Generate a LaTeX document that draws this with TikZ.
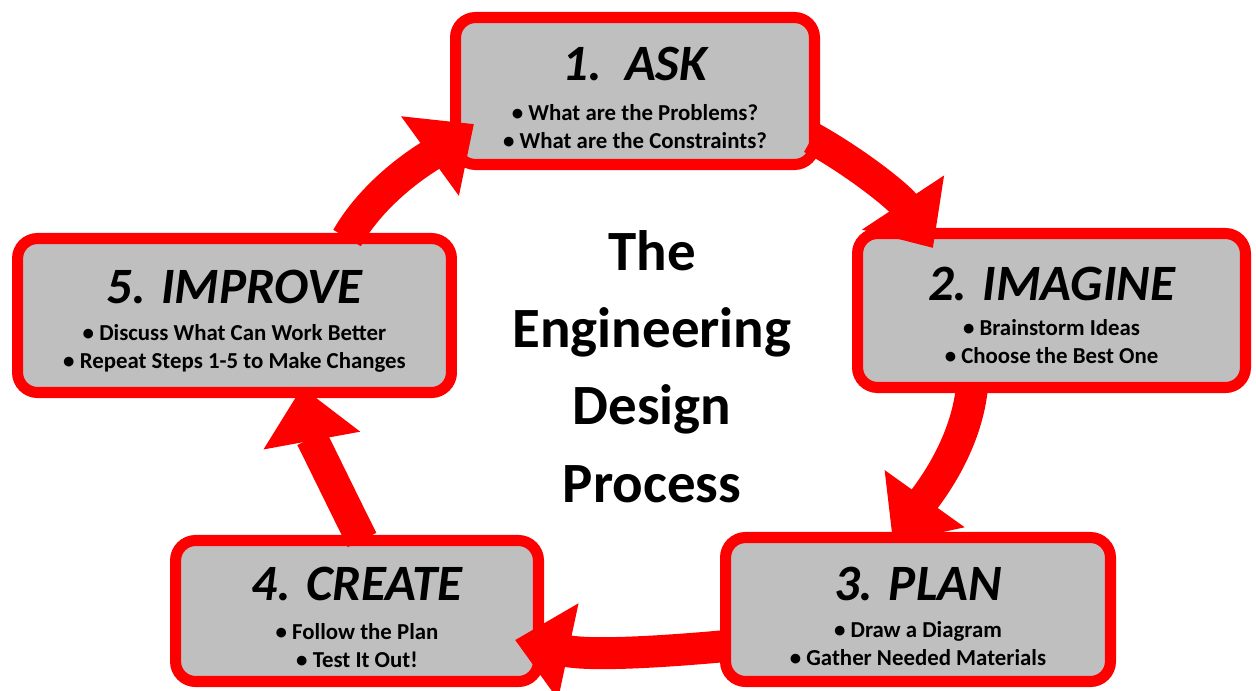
\documentclass[tikz,border=0pt]{standalone}
\usepackage{fontspec}
\setmainfont{Carlito}
\usetikzlibrary{arrows.meta}
\definecolor{boxred}{RGB}{255,0,0}
\definecolor{boxgray}{RGB}{191,191,191}
\begin{document}
\begin{tikzpicture}[x=0.02cm,y=-0.02cm,
  stepbox/.style={draw=boxred, fill=boxgray, line width=6.3pt, rounded corners=0.4cm, inner sep=0pt},
  steptitle/.style={anchor=base, inner sep=0pt, font=\fontsize{29}{34}\selectfont\bfseries\itshape},
  stepitems/.style={anchor=base, align=center, inner sep=0pt, font=\fontsize{13}{15.4}\selectfont\bfseries},
  centertitle/.style={anchor=base, align=center, inner sep=0pt, font=\fontsize{32.4}{44}\selectfont\bfseries},
  bigarrow/.style={draw=boxred, line width=18.2pt, -{Triangle[length=31pt,width=54pt]}}
]
\fill[white] (0,0) rectangle (1256,690);
\useasboundingbox (0,0) rectangle (1256,690);

% boxes
\node[stepbox, minimum width=7.18cm, minimum height=2.94cm] (ask) at (635,91) {};
\node[stepbox, minimum width=7.76cm, minimum height=3.08cm] (imagine) at (1051.5,310.5) {};
\node[stepbox, minimum width=7.70cm, minimum height=2.88cm] (plan) at (918,609.5) {};
\node[stepbox, minimum width=7.26cm, minimum height=2.82cm] (create) at (357,611) {};
\node[stepbox, minimum width=8.68cm, minimum height=3.08cm] (improve) at (234.5,315.5) {};

% texts (multi-line nodes: base = last line)
\node[steptitle] (askT) at (635,80) {1.\ \ ASK};
\node[stepitems] (askB) at (635,148) {• What are the Problems?\\• What are the Constraints?};
\node[steptitle] (imagineT) at (1051.5,300) {2. IMAGINE};
\node[stepitems] (imagineB) at (1051.5,363) {• Brainstorm Ideas\\• Choose the Best One};
\node[steptitle] (planT) at (918,600) {3. PLAN};
\node[stepitems] (planB) at (918,665) {• Draw a Diagram\\• Gather Needed Materials};
\node[steptitle] (createT) at (357,600) {4. CREATE};
\node[stepitems] (createB) at (357,667) {• Follow the Plan\\• Test It Out!};
\node[steptitle] (improveT) at (234.5,303) {5. IMPROVE};
\node[stepitems] (improveB) at (234.5,368) {• Discuss What Can Work Better\\• Repeat Steps 1-5 to Make Changes};

\node[centertitle] (title) at (652,502) {The\\Engineering\\Design\\Process};

% arrow end points
\coordinate (a1s) at (812,138);
\coordinate (a1e) at (933,248);
\coordinate (a2s) at (972,387);
\coordinate (a2e) at (893,543);
\coordinate (a3s) at (726,646);
\coordinate (a3e) at (515,640);
\coordinate (a4s) at (362,540);
\coordinate (a4e) at (302,387);
\coordinate (a5s) at (347,238);
\coordinate (a5e) at (474,124);

\draw[bigarrow] (a1s) .. controls (860,165) and (900,198) .. (a1e);
\draw[bigarrow] (a2s) .. controls (966,447) and (928,494) .. (a2e);
\draw[bigarrow] (a3s) .. controls (660,652) and (590,656) .. (a3e);
\draw[bigarrow] (a4s) .. controls (344,504) and (311,436) .. (a4e);
\draw[bigarrow] (a5s) .. controls (377,186) and (430,156) .. (a5e);
\end{tikzpicture}
\end{document}
